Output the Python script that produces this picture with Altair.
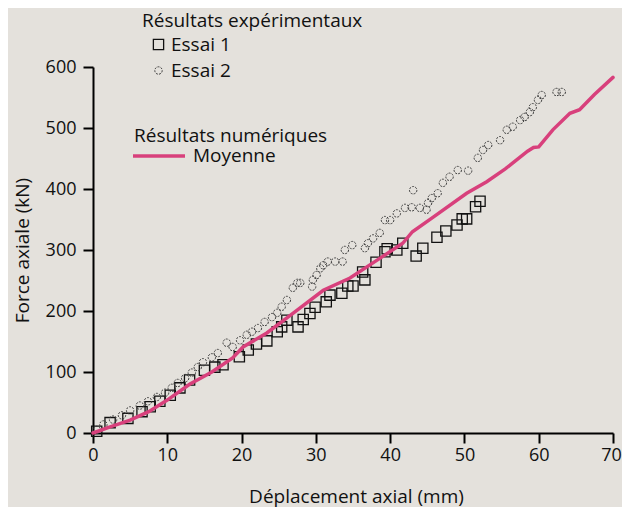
import altair as alt
import pandas as pd

# Essai 1 (squares)
e1_x = [0.5, 2.3, 4.7, 6.6, 7.7, 9.0, 10.4, 11.7, 13.0, 15.0, 16.4, 17.5, 19.7, 20.9, 22.0, 23.4,
        24.8, 25.4, 26.1, 27.6, 28.3, 29.2, 29.9, 31.4, 31.9, 33.5, 34.3, 35.0, 36.3, 36.6, 38.1,
        39.3, 39.6, 40.9, 41.7, 43.5, 44.4, 46.3, 47.5, 49.0, 49.7, 50.3, 51.5, 52.1]
e1_y = [3, 17, 24, 35, 43, 52, 62, 74, 87, 103, 108, 112, 125, 136, 146, 151,
        166, 174, 185, 174, 186, 196, 206, 215, 226, 229, 241, 241, 264, 251, 280,
        297, 302, 300, 311, 290, 303, 321, 331, 341, 351, 351, 371, 380]

# Essai 2 (circles)
e2_x = [0.5, 1.4, 2.7, 3.9, 5.0, 6.3, 7.4, 8.6, 9.7, 10.6, 11.4, 12.4, 13.3, 14.1, 14.8, 16.0,
        16.8, 18.0, 18.8, 19.8, 20.7, 21.4, 22.2, 23.1, 24.1, 24.8, 25.4, 26.1, 26.9, 27.5, 27.9,
        29.5, 29.6, 30.1, 30.6, 31.0, 31.6, 32.6, 33.6, 33.9, 34.9, 36.6, 37.0, 37.7, 38.6, 39.3,
        40.0, 40.9, 42.0, 42.9, 43.1, 44.0, 44.9, 45.1, 45.6, 46.4, 47.1, 48.0, 49.1, 50.5, 51.8,
        52.5, 53.2, 54.8, 55.7, 56.5, 57.5, 58.1, 58.8, 59.2, 59.9, 60.4, 62.4, 63.1]
e2_y = [5, 14, 22, 29, 37, 45, 52, 59, 66, 74, 82, 90, 99, 108, 116, 124,
        131, 148, 141, 152, 161, 166, 172, 182, 190, 197, 207, 218, 238, 246, 246,
        240, 251, 259, 270, 275, 281, 281, 281, 300, 308, 303, 311, 319, 328, 349,
        349, 360, 369, 370, 398, 369, 366, 377, 385, 393, 410, 420, 431, 430, 451,
        464, 472, 480, 497, 502, 513, 518, 526, 534, 546, 554, 559, 559]

# Moyenne (numerical results)
moy_x = [0, 2.5, 5, 7.5, 10, 13, 16, 18.8, 20.2, 23.4, 27, 31, 34.6, 38.2, 41.7, 43, 45.8,
         50.3, 53.0, 55.5, 58.5, 59.3, 60.0, 61.9, 64.2, 65.5, 67.5, 70]
moy_y = [0, 11, 21, 35, 54, 80, 100, 123, 141, 164, 197, 234, 254, 283, 311, 330, 354,
         393, 412, 433, 462, 468, 469, 497, 524, 530, 555, 583]

x_ticks = [0, 10, 20, 30, 40, 50, 60, 70]
y_ticks = [0, 100, 200, 300, 400, 500, 600]
series = ["Essai 1", "Essai 2"]
line_name = ["Moyenne"]

pts = pd.DataFrame({
    "x": e1_x + e2_x,
    "y": e1_y + e2_y,
    "serie": [series[0]] * len(e1_x) + [series[1]] * len(e2_x),
})
line_df = pd.DataFrame({"x": moy_x, "y": moy_y, "modele": line_name * len(moy_x)})

FONT = "Open Sans"
PINK = "#d8407c"
BG = "#e4e1dc"
INK = "#111111"

xs = alt.Scale(domain=[0, 70], nice=False, zero=False)
ys = alt.Scale(domain=[0, 600], nice=False)

common_axis = dict(tickSize=10, tickWidth=2, domainWidth=2, domainColor="black",
                   tickColor="black", grid=False, labelFontSize=18, labelFont=FONT,
                   labelColor=INK, labelFlush=False, titleFont=FONT, titleFontSize=19,
                   titleFontWeight="normal", titleColor=INK)

xaxis = alt.Axis(values=x_ticks, labelPadding=3,
                 labelOffset={"condition": {"test": "datum.value == 70", "value": -2}, "value": 0},
                 title="Déplacement axial (mm)",
                 titleX=263, titleY=63, titleAlign="center", titleBaseline="middle",
                 **common_axis)
yaxis = alt.Axis(values=y_ticks, labelPadding=7,
                 title="Force axiale (kN)",
                 titleX=-71, titleY=183, titleAngle=270, titleAlign="center",
                 titleBaseline="middle", **common_axis)

points = alt.Chart(pts).mark_point(filled=False, opacity=1).encode(
    x=alt.X("x:Q", scale=xs, axis=xaxis),
    y=alt.Y("y:Q", scale=ys, axis=yaxis),
    shape=alt.Shape("serie:N", scale=alt.Scale(domain=series, range=["square", "circle"]),
                    legend=alt.Legend(title="Résultats expérimentaux", orient="none",
                                      legendX=49, legendY=-55, symbolOffset=7, labelOffset=3,
                                      rowPadding=6, titlePadding=4)),
    stroke=alt.Stroke("serie:N", scale=alt.Scale(domain=series, range=[INK, "#3a3a3a"])),
    size=alt.Size("serie:N", scale=alt.Scale(domain=series, range=[105, 55])),
    strokeWidth=alt.StrokeWidth("serie:N", scale=alt.Scale(domain=series, range=[1.3, 1.0])),
    strokeDash=alt.StrokeDash("serie:N", scale=alt.Scale(domain=series, range=[[1, 0], [2, 1.2]])),
)

line = alt.Chart(line_df).mark_line(strokeWidth=3.5, strokeCap="round").encode(
    x=alt.X("x:Q", scale=xs),
    y=alt.Y("y:Q", scale=ys),
    color=alt.Color("modele:N", scale=alt.Scale(domain=line_name, range=[PINK]),
                    legend=alt.Legend(title="Résultats numériques", orient="none",
                                      legendX=41, legendY=60, symbolType="stroke",
                                      symbolSize=2704, symbolStrokeWidth=3.5,
                                      symbolOffset=-3, labelOffset=6, titlePadding=-18)),
)

chart = alt.layer(points, line).properties(
    width=520, height=366,
    autosize=alt.AutoSizeParams(type="none"),
    padding={"left": 85, "top": 59, "right": 9, "bottom": 74},
    background=BG,
).configure_view(stroke=None).configure_legend(
    titleFont=FONT, titleFontSize=19, titleFontWeight="normal", titleColor=INK,
    labelFont=FONT, labelFontSize=19, labelColor=INK, titleLimit=400, labelLimit=300,
    padding=0,
)

chart.save("out.html", embed_options={"renderer": "svg", "actions": False})
